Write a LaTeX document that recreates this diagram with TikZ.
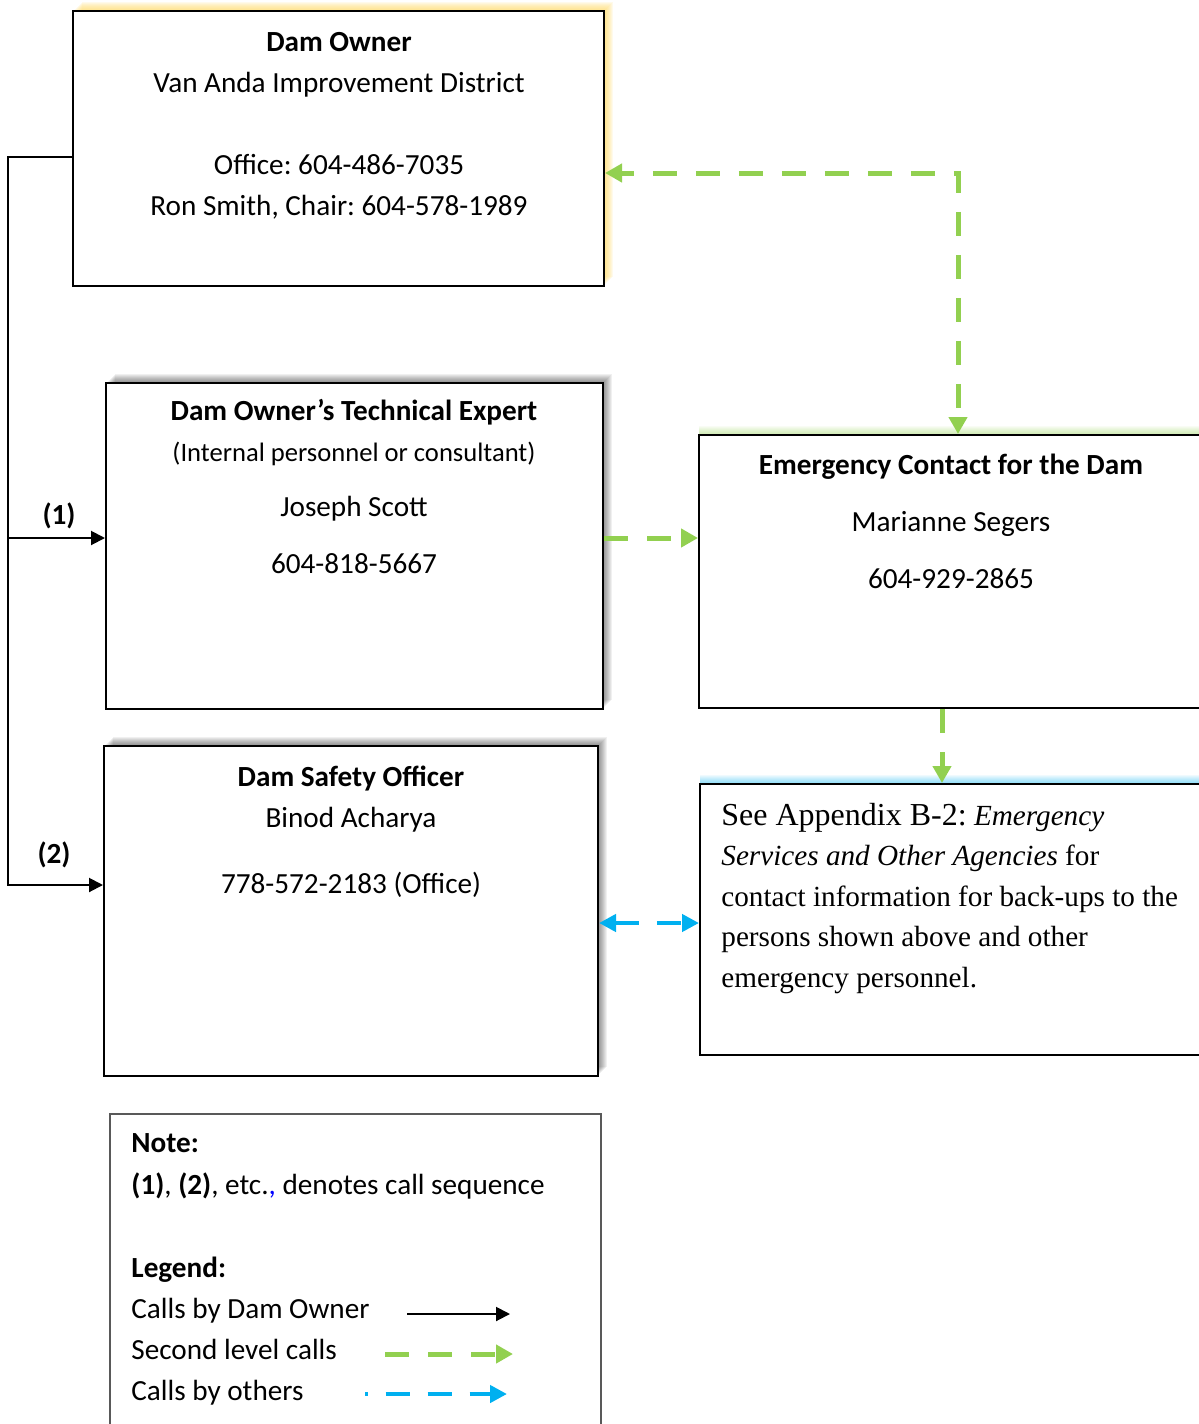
\documentclass[tikz,border=0pt]{standalone}
\usepackage{fontspec}
\setmainfont{Carlito}
\newfontfamily\timesfont{Liberation Serif}
\frenchspacing
\usetikzlibrary{positioning,arrows.meta}
\definecolor{callgreen}{HTML}{92D050}
\definecolor{callblue}{HTML}{00B0F0}
\definecolor{glowyellow}{HTML}{FFD966}
\definecolor{notegray}{HTML}{595959}

\begin{document}
\begin{tikzpicture}[
    x=0.5pt, y=-0.5pt,
    box/.style={rectangle, draw, line width=1pt, fill=white, inner sep=0pt},
    txt/.style={font=\fontsize{14.6}{20.5}\selectfont, align=center, inner sep=0pt},
    owncall/.style={line width=1pt, >={Triangle[width=7pt,length=7pt]}},
    second/.style={draw=callgreen, line width=2.5pt, dash pattern=on 12pt off 9.5pt, >={Triangle[width=9pt,length=8.5pt]}},
    others/.style={draw=callblue, line width=2.25pt, dash pattern=on 12pt off 9pt, >={Triangle[width=8.5pt,length=8.5pt]}}
]
\useasboundingbox (0,0) rectangle (1199,1424);

% glows and shadows behind the boxes
\foreach \r in {1,...,9} {
  \fill[glowyellow, opacity=0.13] (73+\r,11-\r) rectangle (604+\r,286-\r);
  \fill[black, opacity=0.06] (106+\r,383-\r) rectangle (603+\r,709-\r);
  \fill[black, opacity=0.06] (104+\r,746-\r) rectangle (598+\r,1076-\r);
  \fill[callgreen, opacity=0.06] (699,435-\r) rectangle (1210,708);
  \fill[callblue, opacity=0.06] (700,784-\r) rectangle (1210,1055);
}

\node[box, minimum width=265.5pt, minimum height=137.5pt] (owner) at (338.5,148.5) {};
\node[box, minimum width=248.5pt, minimum height=163pt] (tech) at (354.5,546) {};
\node[box, minimum width=255.5pt, minimum height=136.5pt] (emerg) at (954.5,571.5) {};
\node[box, minimum width=255pt, minimum height=135.5pt] (appx) at (955,919.5) {};
\node[box, minimum width=247pt, minimum height=165pt] (safety) at (351,911) {};
\node[box, draw=notegray, minimum width=245.5pt, minimum height=163pt] (note) at (355.5,1277) {};

% texts sit on the baseline of their last line
\node[txt, anchor=base] (ownertxt) at (339,215) {\textbf{Dam Owner}\\Van Anda Improvement District\\[20.5pt]Office: 604-486-7035\\Ron Smith, Chair: 604-578-1989};
\node[txt, anchor=base] (techtxt) at (354,573) {\textbf{Dam Owner’s Technical Expert}\\{\fontsize{13.3}{16}\selectfont(Internal personnel or consultant)}\\[7pt]Joseph Scott\\[8pt]604-818-5667};
\node[txt, anchor=base] (emergtxt) at (951,588) {\textbf{Emergency Contact for the Dam}\\[8pt]Marianne Segers\\[8pt]604-929-2865};
\node[txt, anchor=base] (safetytxt) at (351,893) {\textbf{Dam Safety Officer}\\Binod Acharya\\[12.5pt]778-572-2183 (Office)};
\node[txt, align=left, anchor=base west, font=\timesfont\fontsize{14.6}{20.25}\selectfont] (appxtxt) at (721,987) {{\fontsize{16}{20.25}\selectfont See Appendix B-2:} \textit{Emergency}\\\textit{Services and Other Agencies} for\\contact information for back-ups to the\\persons shown above and other\\emergency personnel.};
\node[txt, align=left, anchor=base west] (notetxt) at (131,1400) {\textbf{Note:}\\[0.5pt]\textbf{(1)}, \textbf{(2)}, etc.\textcolor{blue}{,} denotes call sequence\\[21pt]\textbf{Legend:}\\Calls by Dam Owner\\Second level calls\\Calls by others};

% calls by the dam owner
\coordinate (trunk) at (8,157);
\coordinate (seq1) at (8,538);
\coordinate (seq2) at (8,885);
\draw[owncall,->] (owner.west |- trunk) -- (trunk) -- (seq2) -- (safety.west |- seq2);
\draw[owncall,->] (seq1) -- (tech.west |- seq1);
\node[txt, font=\fontsize{14.6}{20.5}\selectfont\bfseries, anchor=base] (lab1) at (59,524) {(1)};
\node[txt, font=\fontsize{14.6}{20.5}\selectfont\bfseries, anchor=base] (lab2) at (54,863) {(2)};

% second level calls
\coordinate (bend) at (958,173);
\draw[second,<->, dash phase=5.5pt] (owner.east |- bend) -- (bend) -- (emerg.north -| bend);
\draw[second,->] (tech.east |- seq1) -- (emerg.west |- seq1);
\coordinate (drop) at (942,745);
\draw[second,->] (emerg.south -| drop) -- (appx.north -| drop);

% calls by others
\coordinate (link) at (650,923);
\draw[others,<->] (safety.east |- link) -- (appx.west |- link);

% legend
\coordinate (leg1a) at (407,1314);
\coordinate (leg1b) at (510,1314);
\coordinate (leg2a) at (385,1354);
\coordinate (leg2b) at (513,1354);
\coordinate (leg3a) at (365,1394);
\coordinate (leg3b) at (507,1394);
\draw[owncall,->] (leg1a) -- (leg1b);
\draw[second,->] (leg2a) -- (leg2b);
\draw[others,->, dash phase=10.75pt] (leg3a) -- (leg3b);

\end{tikzpicture}
\end{document}
